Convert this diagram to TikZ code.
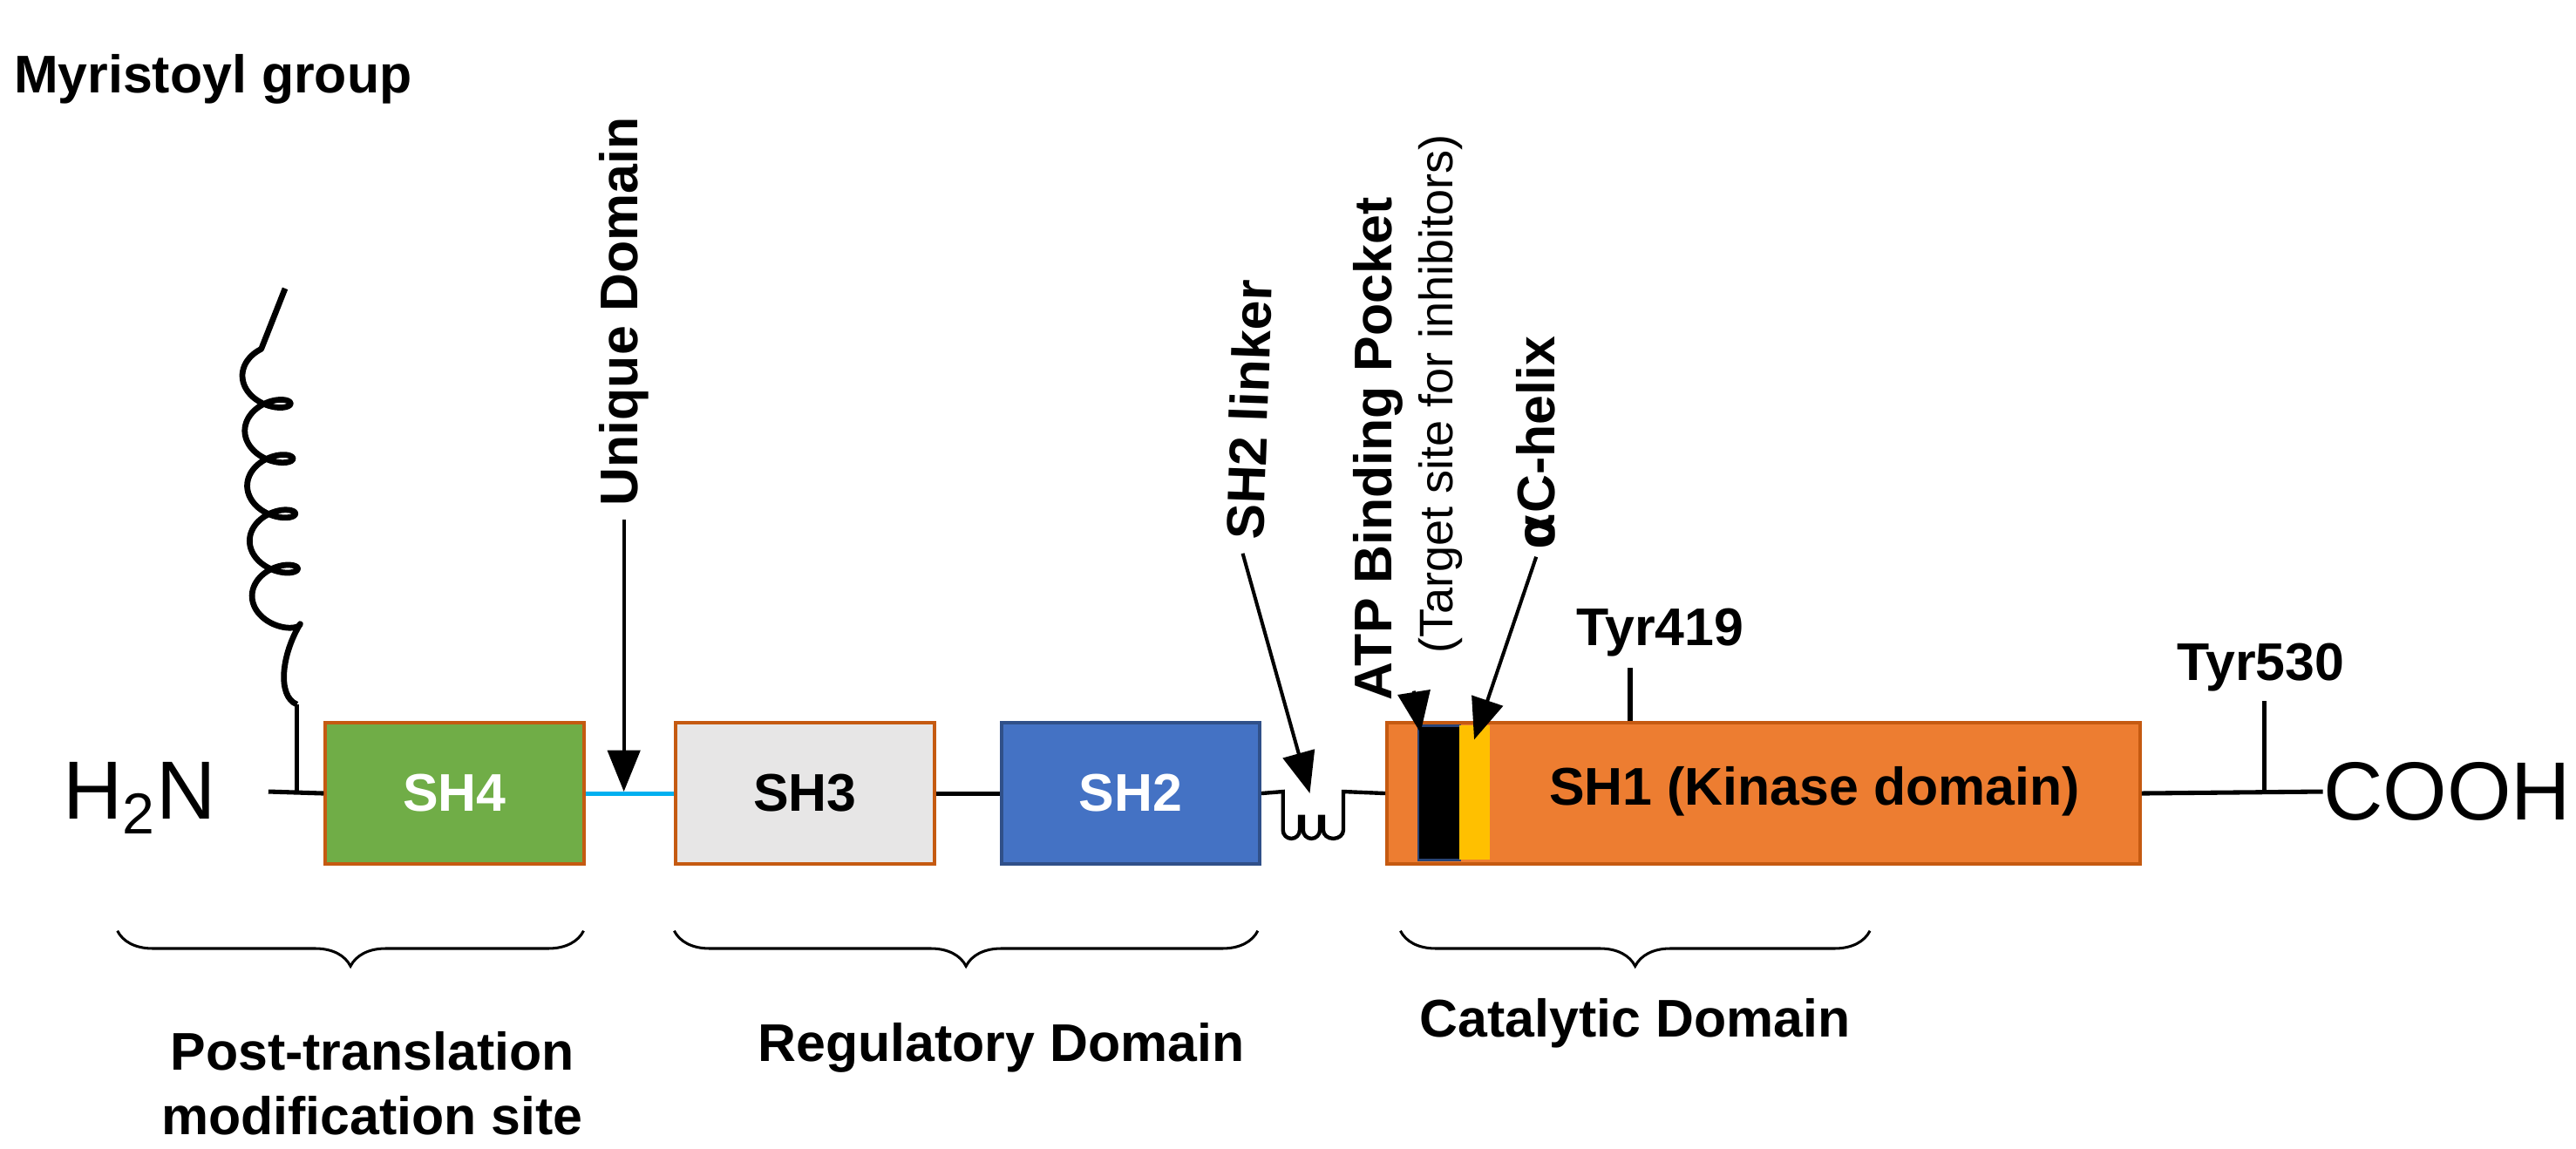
\documentclass[tikz,border=0pt]{standalone}
\usepackage{fontspec}
\setmainfont{Liberation Sans}
\usetikzlibrary{arrows.meta,decorations.pathreplacing}
\definecolor{bord}{HTML}{C55A11}
\definecolor{grn}{HTML}{70AD47}
\definecolor{gry}{HTML}{E7E6E6}
\definecolor{blu}{HTML}{4472C4}
\definecolor{org}{HTML}{ED7D31}
\definecolor{yel}{HTML}{FFC000}
\definecolor{cyn}{HTML}{00B0F0}
\begin{document}
\begin{tikzpicture}[x=0.02cm,y=-0.02cm,
  lbl/.style={font=\fontsize{18}{22}\selectfont\bfseries, inner sep=0pt},
  dom/.style={draw=bord, line width=1.2pt, minimum width=3.08cm, minimum height=1.68cm, anchor=north west, inner sep=0pt, font=\fontsize{18}{22}\selectfont\bfseries},
  ln/.style={line width=1.5pt},
  arr/.style={line width=1.2pt,-{Triangle[length=14pt,width=11pt]}},
  br/.style={decorate,decoration={brace,amplitude=12pt},line width=0.9pt}]
\useasboundingbox (0,0) rectangle (1536,685);
% main text
\node[font=\fontsize{28}{33}\selectfont,anchor=east] (h2n) at (135,476) {H\textsubscript{2}N};
\coordinate (t0) at (160,472);
\coordinate (t1) at (177,472);
\coordinate (t2) at (177,420);
\node[dom,fill=grn,text=white] (sh4) at (193,430) {SH4};
\node[dom,fill=gry] (sh3) at (402,430) {SH3};
\node[dom,fill=blu,text=white,draw=blu!70!black] (sh2) at (596,430) {SH2};
\node[dom,fill=org,minimum width=8.98cm] (sh1) at (826,430) {};
\node[lbl] at (1082,472) {SH1 (Kinase domain)};
\node[fill=black,draw=blu!60!black,line width=0.8pt,minimum width=0.5cm,minimum height=1.6cm,anchor=north west,inner sep=0pt] (atp) at (845,432) {};
\node[fill=yel,minimum width=0.36cm,minimum height=1.6cm,anchor=north west,inner sep=0pt] (ach) at (870,432) {};
\draw[ln] (t0) -- (sh4.west);
\draw[ln] (t1) -- (t2);
\draw[line width=1.5pt,cyn] (sh4.east) -- (sh3.west);
\draw[ln] (sh3.east) -- (sh2.west);
% linker squiggle
\coordinate (q0) at (765,472);
\draw[line width=1.3pt] (sh2.east) -- (q0) -- (765,495) arc[start angle=180,end angle=360,x radius=5,y radius=-5] -- (775,487) -- (777,487) -- (777,495) arc[start angle=180,end angle=360,x radius=5,y radius=-5] -- (787,487) -- (789,487) -- (789,495) arc[start angle=180,end angle=360,x radius=6,y radius=-5] -- (801,472) -- (sh1.west);
% coil
\draw[line width=2pt,line join=round] (t2) .. controls (165,415) and (168,390) .. (179,372)
  -- plot[smooth,domain=0:1700,samples=160] ({165+14*cos(\x)-0.004*\x}, {372-0.0912*\x+9*sin(\x)})
  -- (170,172);
% Tyr419
\coordinate (y419) at (972,398);
\draw[ln] (972,430) -- (y419);
\node[lbl] (ty4) at (990,377) {Tyr419};
% right tail
\node[font=\fontsize{28}{33}\selectfont,anchor=west,inner sep=0pt] (cooh) at (1385,472) {COOH};
\draw[ln] (sh1.east) -- (cooh.west);
\coordinate (y530) at (1350,418);
\draw[ln] (1350,472) -- (y530);
\node[lbl] (ty5) at (1348,398) {Tyr530};
% top labels
\node[lbl,anchor=west] (myr) at (8,47) {Myristoyl group};
\node[lbl,rotate=90,anchor=west] (uni) at (372,302) {Unique Domain};
\draw[arr] (372,310) -- (372,472);
\node[lbl,rotate=88,anchor=west] (lnk) at (742,322) {SH2 linker};
\draw[arr] (741,330) -- (781,473);
\node[lbl,rotate=90,anchor=west] (atpl) at (822,418) {ATP Binding Pocket};
\draw[arr] (843,412) -- (847,437);
\node[font=\fontsize{16}{20}\selectfont,rotate=90,anchor=west,inner sep=0pt] (tgt) at (859,390) {(Target site for inhibitors)};
\node[lbl,rotate=90,anchor=west] (ac) at (916,328) {\fontspec{DejaVu Sans}α\fontspec{Liberation Sans}C-helix};
\draw[arr] (916,332) -- (879,441);
% braces
\draw[br] (348,555) -- (70,555);
\draw[br] (750,555) -- (402,555);
\draw[br] (1115,555) -- (835,555);
\node[lbl,align=center] (ptm) at (222,646) {Post-translation\\modification site};
\node[lbl] (reg) at (597,625) {Regulatory Domain};
\node[lbl] (cat) at (975,610) {Catalytic Domain};
\end{tikzpicture}
\end{document}
